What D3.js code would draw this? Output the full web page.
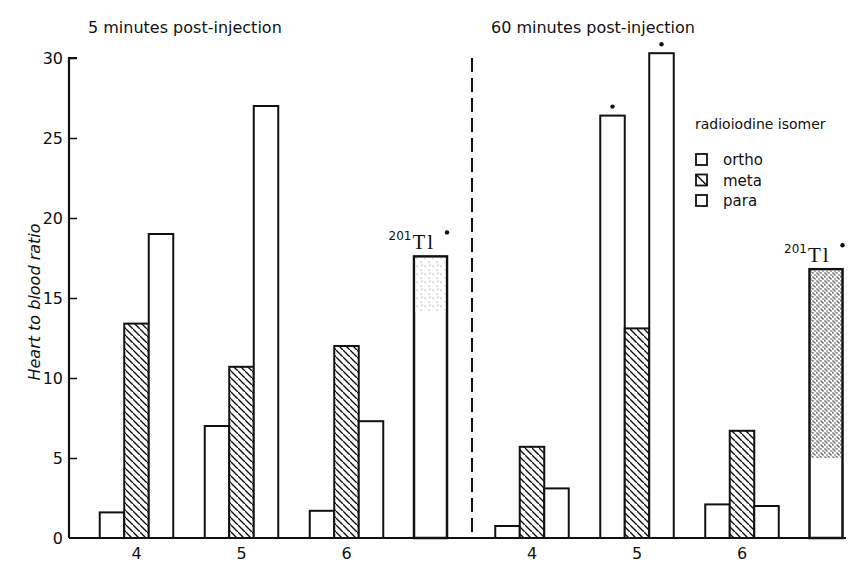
<!DOCTYPE html>
<html><head><meta charset="utf-8">
<script src="https://cdn.jsdelivr.net/npm/d3@7"></script>
<style>body{margin:0;background:#fff}svg{display:block}text{font-family:"DejaVu Sans",sans-serif;fill:#111}</style>
</head><body><svg id="c" width="848" height="565"></svg>
<script>
// ---- data ----
const categories = ["4", "5", "6"];
const isomers = ["ortho", "meta", "para"];
const panels = ["5 minutes post-injection", "60 minutes post-injection"];
const ortho5 = [1.6, 7.0, 1.7];
const meta5 = [13.4, 10.7, 12.0];
const para5 = [19.0, 27.0, 7.3];
const ortho60 = [0.75, 26.4, 2.1];
const meta60 = [5.7, 13.1, 6.7];
const para60 = [3.1, 30.3, 2.0];
const tl = [17.6, 16.8];            // 201Tl ratio per panel
const tlStippleLow = [14.1, 5.0];   // lower edge of stippled part
const starred60 = [[1, 0], [1, 2]]; // [category index, isomer index] with asterisk (60 min)
const yTicks = [0, 5, 10, 15, 20, 25, 30];

// ---- layout ----
const svg = d3.select("#c");
const y = d3.scaleLinear().domain([0, 30]).range([538, 58]);
const panelStart = [136.5, 532];
const slotStep = 105, tlSlot = 2.8, barW = 24.5, tlW = 33;
const xs = panelStart.map(s => d3.scaleLinear().domain([0, 1]).range([s, s + slotStep]));

const defs = svg.append("defs");
const hp = defs.append("pattern").attr("id", "hatch").attr("patternUnits", "userSpaceOnUse")
  .attr("width", 7).attr("height", 7);
hp.append("rect").attr("width", 7).attr("height", 7).attr("fill", "#fff");
hp.append("path").attr("d", "M-1,-1 L8,8 M-4,3 L0,7 M4,-4 L8,0").attr("stroke", "#111").attr("stroke-width", 1.4);

function stipple(id, dots, r, col) {
  const p = defs.append("pattern").attr("id", id).attr("patternUnits", "userSpaceOnUse")
    .attr("width", 8).attr("height", 8);
  p.append("rect").attr("width", 8).attr("height", 8).attr("fill", "#fff");
  dots.forEach(d => p.append("circle").attr("cx", d[0]).attr("cy", d[1]).attr("r", r).attr("fill", col));
}
stipple("dark", [[1,1],[5,1],[3,3],[7,3],[1,5],[5,5],[3,7],[7,7],[2,2],[6,6],[0,4],[4,0]], 0.75, "#333");
stipple("light", [[1,2],[5,6],[6,1]], 0.6, "#777");

const seriesBy = [[ortho5, meta5, para5], [ortho60, meta60, para60]];
const fills = ["#fff", "url(#hatch)", "#fff"];

panels.forEach((title, p) => {
  const x = xs[p];
  const g = svg.append("g");
  const bars = [];
  categories.forEach((c, ci) => isomers.forEach((iso, ii) => {
    bars.push({ci, ii, v: seriesBy[p][ii][ci]});
  }));
  g.selectAll("rect.bar").data(bars).join("rect").attr("class", "bar")
    .attr("x", d => x(d.ci) - 1.5 * barW + d.ii * barW)
    .attr("width", barW)
    .attr("y", d => y(d.v)).attr("height", d => y(0) - y(d.v))
    .attr("fill", d => fills[d.ii]).attr("stroke", "#111").attr("stroke-width", 2);
  // 201Tl bar
  const cx = x(tlSlot), tx = cx - tlW / 2, top = y(tl[p]);
  g.append("rect").attr("x", tx).attr("width", tlW).attr("y", top).attr("height", y(0) - top)
    .attr("fill", "#fff").attr("stroke", "#111").attr("stroke-width", 2.5);
  g.append("rect").attr("x", tx + 1.5).attr("width", tlW - 3).attr("y", top + 1.5)
    .attr("height", y(tlStippleLow[p]) - top - 1.5)
    .attr("fill", p === 0 ? "url(#light)" : "url(#dark)");
  const lab = g.append("text").attr("x", cx - 42).attr("y", top - 7);
  lab.append("tspan").attr("font-size", 12).attr("dy", -9).text("201");
  lab.append("tspan").attr("font-size", 21).attr("font-family", "Liberation Serif, serif")
    .attr("letter-spacing", 2).attr("dy", 9).attr("dx", 1).text("Tl");
  g.append("circle").attr("cx", cx + 16.5).attr("cy", top - 24).attr("r", 2.2).attr("fill", "#111");
  // category labels
  g.selectAll("text.cat").data(categories).join("text").attr("class", "cat")
    .attr("x", (d, i) => x(i)).attr("y", 559).attr("text-anchor", "middle").attr("font-size", 16).text(d => d);
  // title
  g.append("text").attr("x", [88, 491][p]).attr("y", 33).attr("font-size", 16).text(title);
});

// asterisks on 60-minute bars
starred60.forEach(([ci, ii]) => {
  const v = seriesBy[1][ii][ci];
  svg.append("circle").attr("cx", xs[1](ci) - 1.5 * barW + (ii + 0.5) * barW).attr("cy", y(v) - 9)
    .attr("r", 2.2).attr("fill", "#111");
});

// baseline and y axis
svg.append("line").attr("x1", 69).attr("x2", 846).attr("y1", y(0)).attr("y2", y(0))
  .attr("stroke", "#111").attr("stroke-width", 2);
const ax = svg.append("g").attr("transform", "translate(69,0)")
  .call(d3.axisRight(y).tickValues(yTicks).tickSize(8).tickFormat(d3.format("d")));
ax.select(".domain").attr("stroke", "#111").attr("stroke-width", 2.2).attr("d", `M8,${y(30)}H0V${y(0)}`);
ax.selectAll(".tick line").attr("stroke", "#111").attr("stroke-width", 1.5);
ax.selectAll(".tick text").attr("x", -6).attr("text-anchor", "end").attr("font-size", 16)
  .attr("font-family", "DejaVu Sans, sans-serif").attr("fill", "#111");
ax.selectAll(".tick").filter(d => d === 0).select("line").remove();

svg.append("text").attr("transform", "translate(40,302) rotate(-90)").attr("text-anchor", "middle")
  .attr("font-size", 16).attr("font-style", "italic").text("Heart to blood ratio");

// dashed separator
svg.append("line").attr("x1", 472).attr("x2", 472).attr("y1", 58).attr("y2", y(0))
  .attr("stroke", "#111").attr("stroke-width", 2).attr("stroke-dasharray", "14,6");

// legend
const lg = svg.append("g");
lg.append("text").attr("x", 695).attr("y", 129).attr("font-size", 14).text("radioiodine isomer");
isomers.forEach((iso, i) => {
  const yy = 154 + i * 20.5;
  lg.append("rect").attr("x", 696).attr("y", yy).attr("width", 11).attr("height", 11)
    .attr("fill", "#fff").attr("stroke", "#111").attr("stroke-width", 1.8);
  if (i === 1) lg.append("line").attr("x1", 696).attr("y1", yy).attr("x2", 707).attr("y2", yy + 11)
    .attr("stroke", "#111").attr("stroke-width", 1.5);
  lg.append("text").attr("x", 723).attr("y", yy + 11).attr("font-size", 15).text(iso);
});
</script></body></html>
